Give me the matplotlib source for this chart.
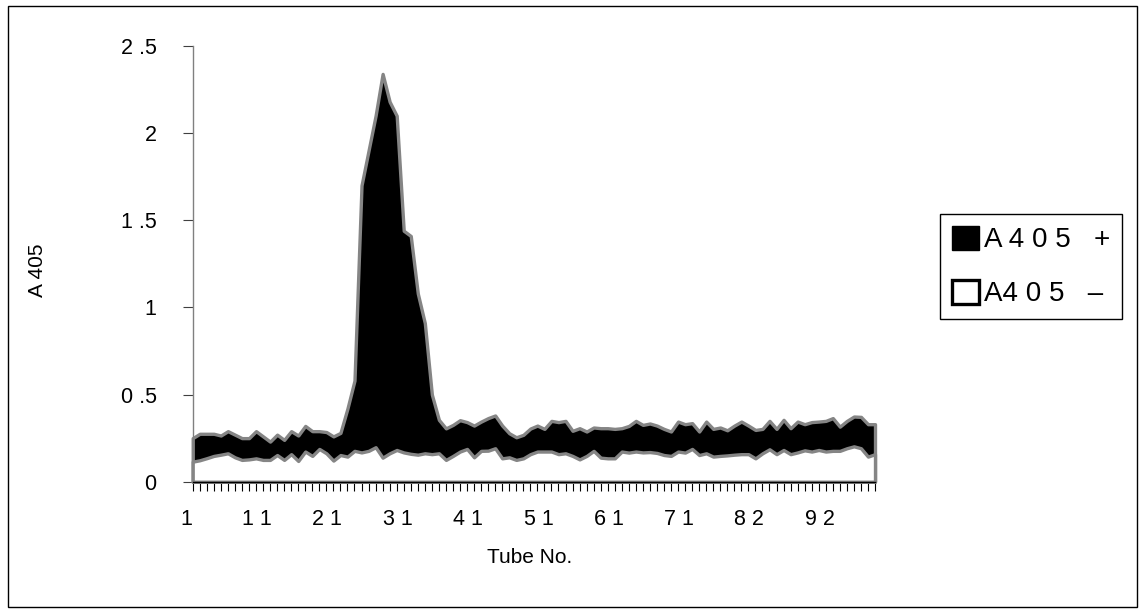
import matplotlib
matplotlib.use("Agg")
import matplotlib.pyplot as plt
import matplotlib.transforms as mtransforms
from matplotlib.patches import Patch, Rectangle
import numpy as np

plt.rcParams['font.family'] = ['Liberation Sans', 'DejaVu Sans']

# tube numbers on the category axis (tube 76 is not in the series)
tubes = list(range(1, 76)) + list(range(77, 100))

# A405 with substrate (black area)
a405_plus = [0.25, 0.275, 0.275, 0.275, 0.265, 0.29, 0.27, 0.25, 0.25, 0.29,
             0.26, 0.23, 0.27, 0.24, 0.29, 0.265, 0.32, 0.29, 0.29, 0.285,
             0.26, 0.28, 0.42, 0.58, 1.70, 1.90, 2.10, 2.34, 2.18, 2.10,
             1.44, 1.41, 1.08, 0.91, 0.50, 0.355, 0.306, 0.326, 0.353, 0.342,
             0.322, 0.345, 0.365, 0.38, 0.322, 0.278, 0.255, 0.269, 0.305, 0.322,
             0.303, 0.349, 0.342, 0.349, 0.292, 0.307, 0.288, 0.311, 0.307, 0.307,
             0.303, 0.307, 0.32, 0.349, 0.326, 0.334, 0.322, 0.303, 0.288, 0.345,
             0.330, 0.336, 0.288, 0.345, 0.303, 0.311, 0.295, 0.322, 0.345, 0.322,
             0.297, 0.303, 0.349, 0.303, 0.355, 0.307, 0.345, 0.330, 0.342, 0.345,
             0.349, 0.365, 0.316, 0.349, 0.374, 0.372, 0.330, 0.330]

# A405 without substrate (white area)
a405_minus = [0.115, 0.123, 0.135, 0.148, 0.155, 0.163, 0.14, 0.125, 0.128, 0.134,
              0.125, 0.125, 0.153, 0.125, 0.158, 0.119, 0.173, 0.148, 0.188, 0.163,
              0.121, 0.153, 0.144, 0.177, 0.168, 0.177, 0.198, 0.138, 0.163, 0.182,
              0.168, 0.16, 0.155, 0.163, 0.158, 0.163, 0.125, 0.148, 0.173, 0.188,
              0.14, 0.177, 0.178, 0.192, 0.134, 0.14, 0.125, 0.134, 0.158, 0.173,
              0.173, 0.173, 0.158, 0.163, 0.148, 0.128, 0.148, 0.177, 0.138, 0.134,
              0.134, 0.173, 0.167, 0.173, 0.168, 0.17, 0.165, 0.153, 0.148, 0.173,
              0.167, 0.188, 0.153, 0.163, 0.144, 0.148, 0.151, 0.155, 0.158, 0.158,
              0.134, 0.163, 0.186, 0.158, 0.182, 0.158, 0.168, 0.18, 0.173, 0.182,
              0.173, 0.177, 0.177, 0.192, 0.203, 0.192, 0.144, 0.158]

y_ticks = [0, 0.5, 1, 1.5, 2, 2.5]
y_labels = ['0', '0 .5', '1', '1 .5', '2', '2 .5']

W, H = 1145, 615
fig = plt.figure(figsize=(W / 100, H / 100), dpi=100)
ax = fig.add_axes([192.7 / W, 1 - 481.7 / H, (875 - 192.7) / W, (481.7 - 46) / H])

x = np.arange(len(tubes))
edge = '#858585'
ax.fill_between(x, 0, a405_plus, facecolor='black', edgecolor=edge,
                linewidth=2.4, clip_on=False, zorder=2)
ax.fill_between(x, 0, a405_minus, facecolor='white', edgecolor=edge,
                linewidth=2.4, clip_on=False, zorder=3)

ax.set_xlim(0, len(tubes) - 1)
ax.set_ylim(0, 2.5)

ax.set_yticks(y_ticks)
ax.set_yticklabels(y_labels, fontsize=15.5)
major = x[::10]
ax.set_xticks(major)
ax.set_xticklabels([' '.join(str(tubes[i])) for i in major], fontsize=15.5)
ax.set_xticks(x, minor=True)
ax.tick_params(axis='x', which='both', direction='out', length=6.5, width=0.8,
               color='black', pad=13)
ax.tick_params(axis='y', direction='out', length=7, width=0.8,
               color='#404040', pad=19)
shift = mtransforms.ScaledTranslation(-6 / 100, 0, fig.dpi_scale_trans)
for lab in ax.get_xticklabels():
    lab.set_transform(lab.get_transform() + shift)

for s in ['top', 'right']:
    ax.spines[s].set_visible(False)
ax.spines['bottom'].set_color('black')
ax.spines['bottom'].set_linewidth(1.0)
ax.spines['bottom'].set_zorder(5)
ax.spines['left'].set_color('#808080')
ax.spines['left'].set_linewidth(1.0)

ax.set_ylabel('A 405', fontsize=15)
ax.yaxis.set_label_coords(-0.2135, 0.486)
ax.set_xlabel('Tube No.', fontsize=15)
ax.xaxis.set_label_coords(0.494, -0.153)

handles = [Patch(facecolor='black', edgecolor='black', linewidth=1),
           Patch(facecolor='white', edgecolor='black', linewidth=2.4)]
leg = fig.legend(handles, ['A 4 0 5   +', 'A4 0 5   \u2013'], loc='center left',
                 bbox_to_anchor=(940 / W, 1 - 266.5 / H), fontsize=20,
                 handlelength=1.0, handleheight=0.95, handletextpad=0.15,
                 labelspacing=0.95, borderpad=0.42, borderaxespad=0,
                 fancybox=False, framealpha=1, edgecolor='black')
leg.get_frame().set_linewidth(1.0)

fig.patches.append(Rectangle((8 / W, 1 - 607 / H), (1137 - 8) / W, (607 - 6) / H,
                             transform=fig.transFigure, fill=False,
                             edgecolor='black', linewidth=1.0))

fig.savefig('out.png', dpi=100, facecolor='white')
